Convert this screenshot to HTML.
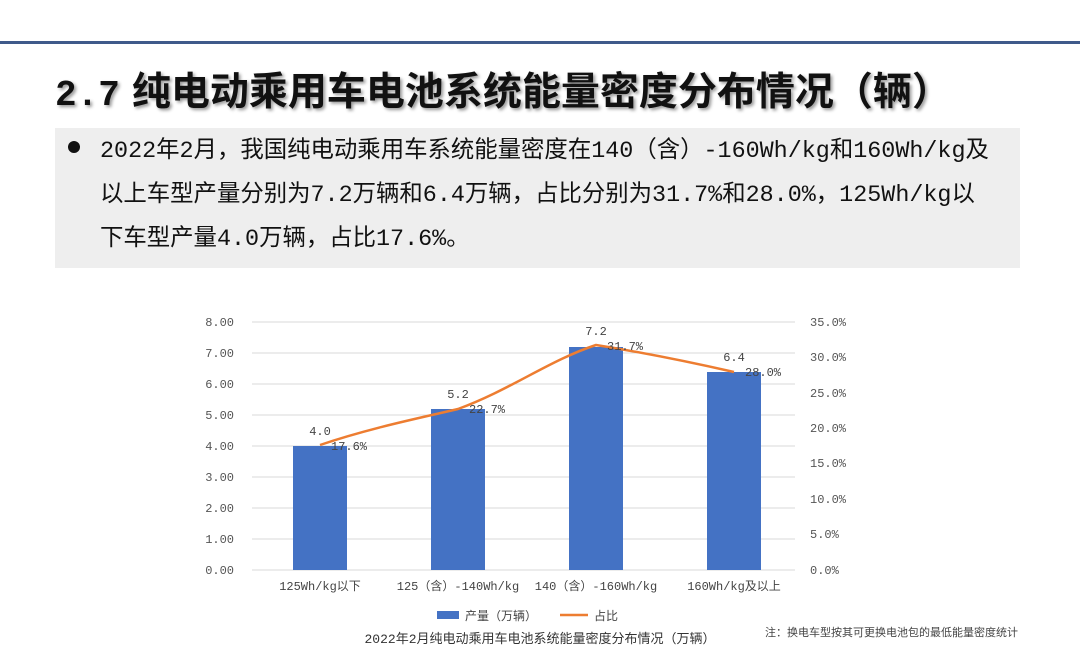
<!DOCTYPE html>
<html><head><meta charset="utf-8"><style>
body{margin:0;width:1080px;height:655px;background:#fff;overflow:hidden;position:relative;font-family:"Liberation Mono","Noto Sans CJK SC",monospace}
.topline{position:absolute;left:0;top:41px;width:1080px;height:3px;background:#3f5a8a}
.title{position:absolute;left:55px;top:61px;font-size:39px;font-weight:bold;color:#111;text-shadow:2px 2px 3px #999;white-space:nowrap}
.title span{font-size:36px;margin-right:12px}
.box{position:absolute;left:55px;top:128px;width:965px;height:140px;background:#eeeeee}
.txt{position:absolute;left:100px;top:130px;font-size:23.4px;line-height:44px;color:#111;white-space:nowrap}
.dot{position:absolute;left:68px;top:141px;width:12px;height:12px;border-radius:50%;background:#111}
</style></head><body>
<div class="topline"></div>
<div class="title"><span>2.7</span>纯电动乘用车电池系统能量密度分布情况（辆）</div>
<div class="box"></div><div class="dot"></div>
<div class="txt">2022年2月，我国纯电动乘用车系统能量密度在140（含）-160Wh/kg和160Wh/kg及<br>以上车型产量分别为7.2万辆和6.4万辆，占比分别为31.7%和28.0%，125Wh/kg以<br>下车型产量4.0万辆，占比17.6%。</div>
<svg width="1080" height="655" style="position:absolute;left:0;top:0" font-family="Liberation Mono, Noto Sans CJK SC, monospace">
<g stroke="#d9d9d9" stroke-width="1">
<line x1="252" x2="795" y1="322" y2="322"/><line x1="252" x2="795" y1="353" y2="353"/><line x1="252" x2="795" y1="384" y2="384"/><line x1="252" x2="795" y1="415" y2="415"/><line x1="252" x2="795" y1="446" y2="446"/><line x1="252" x2="795" y1="477" y2="477"/><line x1="252" x2="795" y1="508" y2="508"/><line x1="252" x2="795" y1="539" y2="539"/><line x1="252" x2="795" y1="570" y2="570"/>
</g>
<g font-size="12" fill="#555" text-anchor="end">
<text x="234" y="326">8.00</text><text x="234" y="357">7.00</text><text x="234" y="388">6.00</text><text x="234" y="419">5.00</text><text x="234" y="450">4.00</text><text x="234" y="481">3.00</text><text x="234" y="512">2.00</text><text x="234" y="543">1.00</text><text x="234" y="574">0.00</text>
</g>
<g font-size="12" fill="#555" text-anchor="start">
<text x="810" y="326">35.0%</text><text x="810" y="361">30.0%</text><text x="810" y="397">25.0%</text><text x="810" y="432">20.0%</text><text x="810" y="467">15.0%</text><text x="810" y="503">10.0%</text><text x="810" y="538">5.0%</text><text x="810" y="574">0.0%</text>
</g>
<g fill="#4472c4">
<rect x="293" y="446" width="54" height="124"/><rect x="431" y="409" width="54" height="161"/><rect x="569" y="347" width="54" height="223"/><rect x="707" y="372" width="54" height="198"/>
</g>
<path d="M320,445 C370,428 420,418 458,409 C510,390 550,360 596,345 C640,352 690,362 734,372" fill="none" stroke="#ed7d31" stroke-width="2.5"/>
<g font-size="12" fill="#444">
<text x="320" y="435" text-anchor="middle">4.0</text><text x="458" y="398" text-anchor="middle">5.2</text><text x="596" y="335" text-anchor="middle">7.2</text><text x="734" y="361" text-anchor="middle">6.4</text>
<text x="331" y="450">17.6%</text><text x="469" y="413">22.7%</text><text x="607" y="350">31.7%</text><text x="745" y="376">28.0%</text>
</g>
<g font-size="12" fill="#444" text-anchor="middle">
<text x="320" y="590">125Wh/kg以下</text><text x="458" y="590">125（含）-140Wh/kg</text><text x="596" y="590">140（含）-160Wh/kg</text><text x="734" y="590">160Wh/kg及以上</text>
</g>
<rect x="437" y="611" width="22" height="8" fill="#4472c4"/>
<text x="465" y="620" font-size="12" fill="#444">产量（万辆）</text>
<line x1="560" x2="588" y1="615" y2="615" stroke="#ed7d31" stroke-width="2.5"/>
<text x="594" y="620" font-size="12" fill="#444">占比</text>
<text x="540" y="643" font-size="13" fill="#333" text-anchor="middle">2022年2月纯电动乘用车电池系统能量密度分布情况（万辆）</text>
<text x="765" y="636" font-size="11" fill="#444">注：换电车型按其可更换电池包的最低能量密度统计</text>
</svg>
</body></html>
